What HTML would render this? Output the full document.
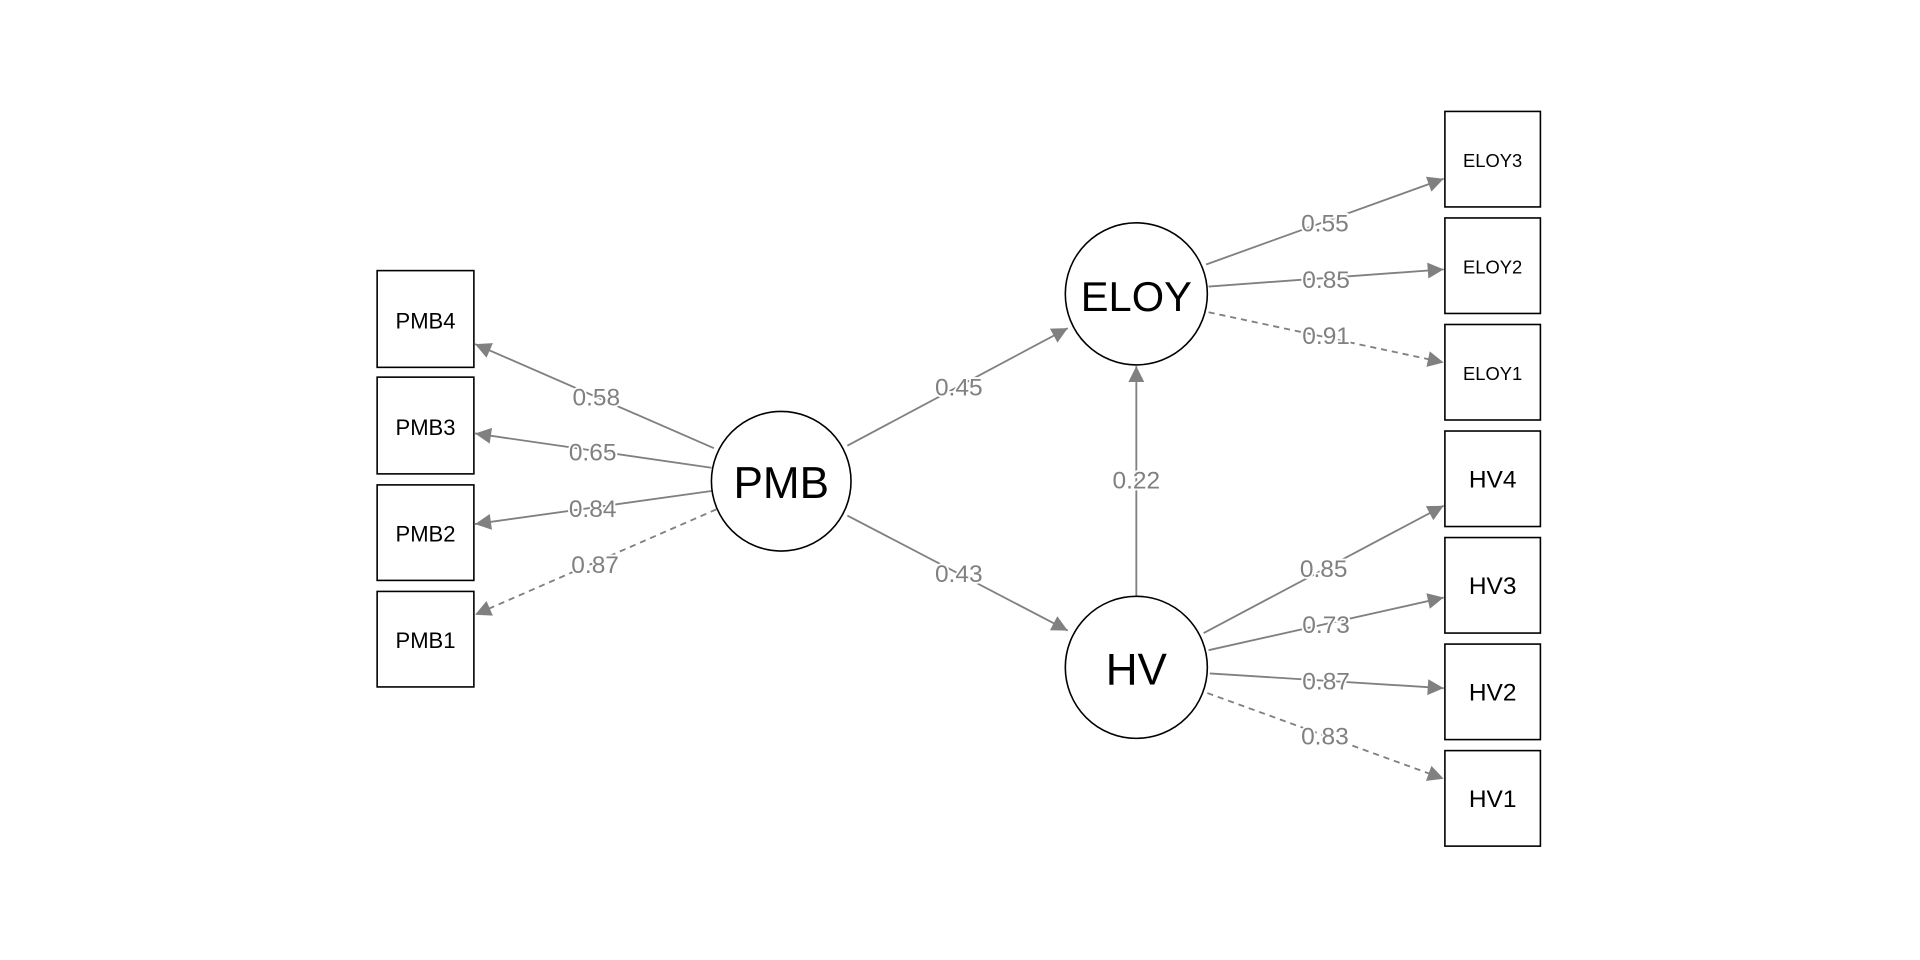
<!DOCTYPE html>
<html><head><meta charset="utf-8"><style>
html,body{margin:0;padding:0;background:#fff;}
svg{display:block;}
.lbl{font-family:"Liberation Sans",Arial,sans-serif;font-size:20px;fill:#808080;text-anchor:middle;dominant-baseline:central;paint-order:stroke;stroke:#fff;stroke-width:3px;}
.box{fill:#fff;stroke:#000;stroke-width:1.3;}
.bt{font-family:"Liberation Sans",Arial,sans-serif;fill:#000;text-anchor:middle;dominant-baseline:central;}
.e{stroke:#808080;stroke-width:1.5;fill:none;marker-end:url(#ah);}
.d{stroke-dasharray:5,4;}
</style></head><body>
<svg width="1920" height="960" viewBox="0 0 1568 784" xmlns="http://www.w3.org/2000/svg">
<defs><marker id="ah" viewBox="0 0 10 10" refX="10" refY="5" markerWidth="13" markerHeight="11" markerUnits="userSpaceOnUse" orient="auto"><path d="M0,0 L10,5 L0,10 z" fill="#808080"/></marker>
<marker id="ah2" viewBox="0 0 10 10" refX="10" refY="5" markerWidth="20" markerHeight="13" orient="auto" markerUnits="userSpaceOnUse"><path d="M0,0 L10,5 L0,10 z" fill="#808080"/></marker></defs>
<style>.e{marker-end:url(#ah2);}</style>
<!-- edges -->
<line class="e" x1="583" y1="366" x2="388" y2="281"/>
<line class="e" x1="581" y1="382" x2="388" y2="354"/>
<line class="e" x1="581" y1="401" x2="388" y2="428"/>
<line class="e d" x1="585" y1="416" x2="388" y2="502"/>
<line class="e" x1="692" y1="364" x2="872" y2="268"/>
<line class="e" x1="692" y1="421" x2="872" y2="515"/>
<line class="e" x1="928" y1="487" x2="928" y2="299"/>
<line class="e" x1="985" y1="216" x2="1179" y2="146"/>
<line class="e" x1="987" y1="234" x2="1179" y2="220"/>
<line class="e d" x1="987" y1="255" x2="1179" y2="296"/>
<line class="e" x1="983" y1="517" x2="1179" y2="413"/>
<line class="e" x1="987" y1="531" x2="1179" y2="488"/>
<line class="e" x1="988" y1="550" x2="1179" y2="562"/>
<line class="e d" x1="986" y1="566" x2="1179" y2="636"/>
<!-- labels -->
<text class="lbl" x="487" y="325">0.58</text>
<text class="lbl" x="484" y="370">0.65</text>
<text class="lbl" x="484" y="416">0.84</text>
<text class="lbl" x="486" y="462">0.87</text>
<text class="lbl" x="783" y="317">0.45</text>
<text class="lbl" x="783" y="469">0.43</text>
<text class="lbl" x="928" y="393">0.22</text>
<text class="lbl" x="1082" y="183">0.55</text>
<text class="lbl" x="1083" y="229">0.85</text>
<text class="lbl" x="1083" y="275">0.91</text>
<text class="lbl" x="1081" y="465">0.85</text>
<text class="lbl" x="1083" y="511">0.73</text>
<text class="lbl" x="1083" y="557">0.87</text>
<text class="lbl" x="1082" y="602">0.83</text>
<!-- circles -->
<circle cx="638" cy="393" r="57" class="box"/><text class="bt" x="638" y="395" font-size="36">PMB</text>
<circle cx="928" cy="240" r="58" class="box"/><text class="bt" x="928" y="242" font-size="34">ELOY</text>
<circle cx="928" cy="545" r="58" class="box"/><text class="bt" x="928" y="547" font-size="36">HV</text>
<!-- left boxes -->
<rect class="box" x="308" y="221" width="79" height="79"/><text class="bt" x="347.5" y="262" font-size="18">PMB4</text>
<rect class="box" x="308" y="308" width="79" height="79"/><text class="bt" x="347.5" y="349" font-size="18">PMB3</text>
<rect class="box" x="308" y="396" width="79" height="78"/><text class="bt" x="347.5" y="436" font-size="18">PMB2</text>
<rect class="box" x="308" y="483" width="79" height="78"/><text class="bt" x="347.5" y="523" font-size="18">PMB1</text>
<!-- right boxes -->
<rect class="box" x="1180" y="91" width="78" height="78"/><text class="bt" x="1219" y="131" font-size="15">ELOY3</text>
<rect class="box" x="1180" y="178" width="78" height="78"/><text class="bt" x="1219" y="218" font-size="15">ELOY2</text>
<rect class="box" x="1180" y="265" width="78" height="78"/><text class="bt" x="1219" y="305" font-size="15">ELOY1</text>
<rect class="box" x="1180" y="352" width="78" height="78"/><text class="bt" x="1219" y="392" font-size="20">HV4</text>
<rect class="box" x="1180" y="439" width="78" height="78"/><text class="bt" x="1219" y="479" font-size="20">HV3</text>
<rect class="box" x="1180" y="526" width="78" height="78"/><text class="bt" x="1219" y="566" font-size="20">HV2</text>
<rect class="box" x="1180" y="613" width="78" height="78"/><text class="bt" x="1219" y="653" font-size="20">HV1</text>
</svg>
</body></html>
